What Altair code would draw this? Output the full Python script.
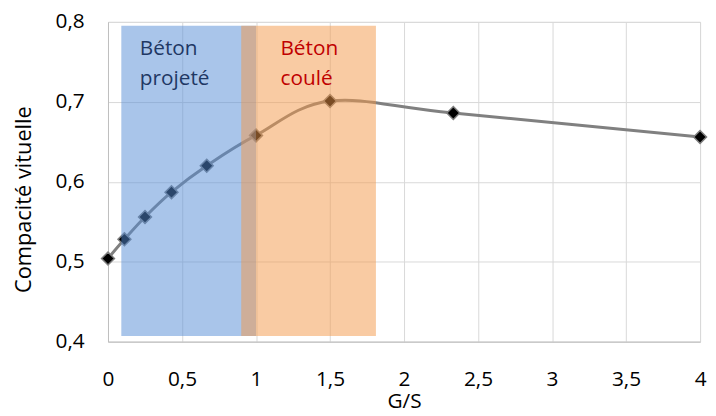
import altair as alt
import pandas as pd

gs = [0, 0.111, 0.25, 0.429, 0.667, 1.0, 1.5, 2.333, 4.0]
compacite = [0.504, 0.528, 0.556, 0.587, 0.620, 0.658, 0.701, 0.686, 0.656]

zone_names = ["projeté", "coulé"]
zone_x1 = [0.09, 0.90]
zone_x2 = [1.00, 1.81]
zone_y1 = [0.407, 0.407]
zone_y2 = [0.795, 0.795]
zone_colors = ["#538bd5", "#f39747"]

label_text = [["Béton", "projeté"], ["Béton", "coulé"]]
label_x = [0.215, 1.165]
label_y = [0.7795, 0.7795]
label_colors = ["#1f3864", "#c00000"]

FONT = "Open Sans"

df = pd.DataFrame({"gs": gs, "c": compacite})
zones = pd.DataFrame({"name": zone_names, "x1": zone_x1, "x2": zone_x2,
                      "y1": zone_y1, "y2": zone_y2, "col": zone_colors})
labels = pd.DataFrame({"t": label_text, "x": label_x, "y": label_y, "col": label_colors})

xscale = alt.Scale(domain=[0, 4], nice=False, zero=False)
yscale = alt.Scale(domain=[0.4, 0.8], nice=False, zero=False)

xaxis = alt.Axis(values=[0, 0.5, 1, 1.5, 2, 2.5, 3, 3.5, 4],
                 labelExpr="replace(format(datum.value, '~g'), '.', ',')",
                 title="G/S", ticks=False, labelPadding=27, titlePadding=1,
                 labelFontSize=21, titleFontSize=21, labelFont=FONT, titleFont=FONT,
                 labelColor="#000000", titleColor="#000000", titleFontWeight="normal",
                 gridColor="#d9d9d9", domainColor="#bfbfbf", labelFlush=False)
yaxis = alt.Axis(values=[0.4, 0.5, 0.6, 0.7, 0.8],
                 labelExpr="replace(format(datum.value, '.1f'), '.', ',')",
                 title="Compacité vituelle", ticks=False, labelPadding=24,
                 labelFontSize=21, titleFontSize=22, labelFont=FONT, titleFont=FONT,
                 labelColor="#000000", titleColor="#000000", titleFontWeight="normal",
                 gridColor="#d9d9d9", domainColor="#bfbfbf",
                 titleX=-85, titleY=179, titleAngle=-90, titleAlign="center",
                 titleBaseline="middle", labelFlush=False)

line = alt.Chart(df).mark_line(interpolate="cardinal", tension=0, color="#808080",
                               strokeWidth=3).encode(
    x=alt.X("gs:Q", scale=xscale, axis=xaxis),
    y=alt.Y("c:Q", scale=yscale, axis=yaxis),
)
pts = alt.Chart(df).mark_point(shape="diamond", filled=True, size=170, color="#000000",
                               stroke="#7f7f7f", strokeWidth=1.5, opacity=1).encode(
    x=alt.X("gs:Q", scale=xscale),
    y=alt.Y("c:Q", scale=yscale),
)
rects = alt.Chart(zones).mark_rect(opacity=0.5).encode(
    x=alt.X("x1:Q", scale=xscale), x2="x2:Q",
    y=alt.Y("y1:Q", scale=yscale), y2="y2:Q",
    color=alt.Color("col:N", scale=None, legend=None),
)
texts = alt.Chart(labels).mark_text(align="left", baseline="top", font=FONT, fontSize=21,
                                    lineHeight=30).encode(
    x=alt.X("x:Q", scale=xscale),
    y=alt.Y("y:Q", scale=yscale),
    text="t",
    color=alt.Color("col:N", scale=None, legend=None),
)

chart = alt.layer(line, pts, rects, texts).properties(
    width=598, height=323,
    autosize=alt.AutoSizeParams(type="none"),
    padding={"left": 101, "top": 12, "right": 8, "bottom": 66},
).configure_view(stroke="#d9d9d9").configure(background="white")

chart.save("out.html", embed_options={"renderer": "svg", "actions": False})
